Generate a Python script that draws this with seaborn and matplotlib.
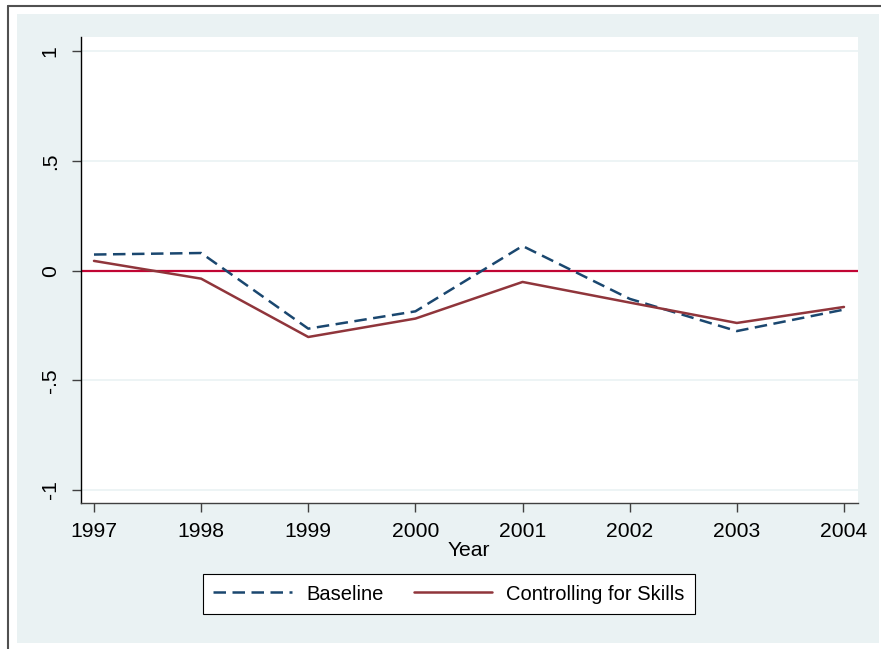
import numpy as np
import pandas as pd
import matplotlib
matplotlib.use('Agg')
import matplotlib.pyplot as plt
import seaborn as sns
from matplotlib.patches import Rectangle
from matplotlib.lines import Line2D

# values
years = [1997, 1998, 1999, 2000, 2001, 2002, 2003, 2004]
baseline = [0.074, 0.081, -0.264, -0.185, 0.113, -0.128, -0.275, -0.177]
skills = [0.045, -0.036, -0.302, -0.218, -0.051, -0.145, -0.238, -0.165]
series_names = ['Baseline', 'Controlling for Skills']
y_ticks = [-1, -0.5, 0, 0.5, 1]
y_tick_labels = ['-1', '-.5', '0', '.5', '1']

df = pd.DataFrame({
    'Year': years * 2,
    'Value': baseline + skills,
    'Series': [series_names[0]] * len(years) + [series_names[1]] * len(years),
})

sns.set_style('white')
plt.rcParams['font.family'] = ['Liberation Sans', 'DejaVu Sans']
plt.rcParams['text.color'] = 'black'
plt.rcParams['axes.labelcolor'] = 'black'
plt.rcParams['xtick.color'] = 'black'
plt.rcParams['ytick.color'] = 'black'

W, H = 881, 649
fig = plt.figure(figsize=(W / 100, H / 100), dpi=100, facecolor='white')

# stata-like light blue background panel and the outer frame lines
fig.patches.append(Rectangle((17 / W, 1 - 643 / H), (879 - 17) / W, (643 - 14) / H,
                             transform=fig.transFigure, facecolor='#EAF2F3',
                             edgecolor='none', zorder=-2))
fig.lines.append(Line2D([8 / W, 8 / W], [0, 1 - 6 / H], transform=fig.transFigure,
                        color='#505050', lw=1.5, zorder=-2))
fig.lines.append(Line2D([8 / W, 1], [1 - 6 / H, 1 - 6 / H], transform=fig.transFigure,
                        color='#505050', lw=1.5, zorder=-2))

ax = fig.add_axes([80.7 / W, 1 - 503 / H, (857.7 - 80.7) / W, (503 - 37) / H])
ax.set_facecolor('white')

for yv in y_ticks:
    ax.axhline(yv, color='#EAF2F3', lw=1.2, zorder=0)
ax.axhline(0, color='#C10534', lw=1.6, zorder=1)

sns.lineplot(data=df, x='Year', y='Value', hue='Series', style='Series',
             palette={series_names[0]: '#1A476F', series_names[1]: '#90353B'},
             dashes={series_names[0]: (5, 2.6), series_names[1]: ''},
             linewidth=1.8, ax=ax, legend=False, zorder=3)

ax.set_xlim(1997 - 0.124, 2004 + 0.128)
ax.set_ylim(-1.059, 1.066)
ax.set_xticks(years)
ax.set_xticklabels([str(y) for y in years], fontsize=15.2)
ax.set_yticks(y_ticks)
ax.set_yticklabels(y_tick_labels, fontsize=15.2, rotation=90, va='center')
ax.tick_params(axis='both', direction='out', length=6.5, width=1, color='#404040',
               left=True, bottom=True)
ax.tick_params(axis='x', pad=7)
ax.tick_params(axis='y', pad=8.5)
ax.set_xlabel('Year', fontsize=15.2, labelpad=0)
ax.set_ylabel('')

for side in ['top', 'right']:
    ax.spines[side].set_visible(False)
ax.spines['left'].set_color('black')
ax.spines['bottom'].set_color('#404040')
ax.spines['left'].set_linewidth(1)
ax.spines['bottom'].set_linewidth(1)

handles = [Line2D([], [], color='#1A476F', lw=1.8, dashes=(5, 2.6)),
           Line2D([], [], color='#90353B', lw=1.8)]
leg = fig.legend(handles, series_names, loc='center', ncol=2,
                 bbox_to_anchor=(449 / W, 1 - 594 / H), fontsize=14.5,
                 frameon=True, fancybox=False, edgecolor='black', facecolor='white',
                 framealpha=1, handlelength=3.9, handletextpad=0.7,
                 columnspacing=1.5, borderpad=0.5)
leg.get_frame().set_linewidth(0.8)

fig.savefig('out.png', dpi=100, facecolor='white')
